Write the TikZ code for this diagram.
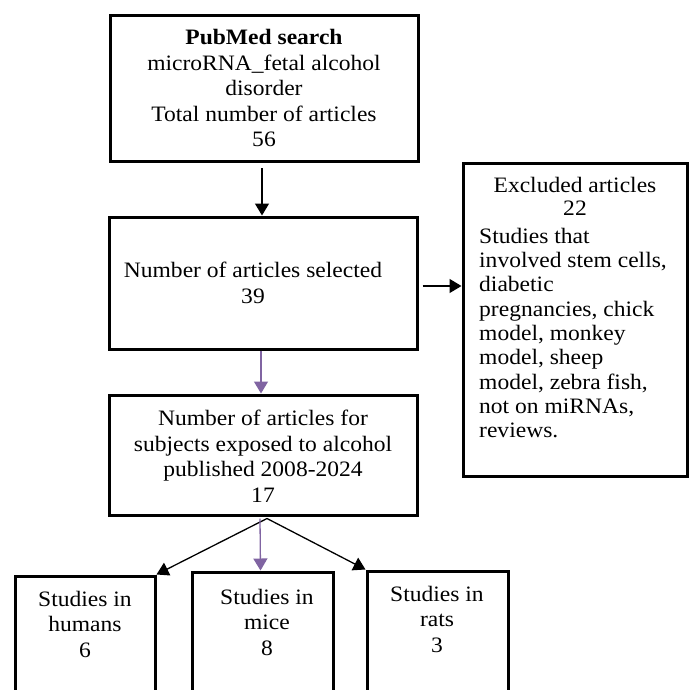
\documentclass[tikz,border=0pt]{standalone}
\usepackage{fontspec}
\setmainfont{Liberation Serif}[FakeStretch=1.07]
\usetikzlibrary{arrows.meta}
\definecolor{arrowpurple}{RGB}{128,100,162}
\begin{document}
\begin{tikzpicture}[x=1pt,y=-1pt,
  box/.style={draw=black, line width=3pt, rectangle, inner sep=0pt},
  txt/.style={inner sep=0pt, align=center, font=\fontsize{22}{25.5}\selectfont},
  txtl/.style={inner sep=0pt, align=left, font=\fontsize{22}{24.3}\selectfont},
  arr/.style={line width=1.3pt, -{Triangle[width=14pt,length=12pt]}},
  parr/.style={line width=1.3pt, draw=arrowpurple, -{Triangle[width=14pt,length=12pt,fill=arrowpurple]}}
]
\clip (0,0) rectangle (691,689);
\fill[white] (0,0) rectangle (691,689);

% boxes
\node[box, minimum width=308pt, minimum height=146pt] (b1) at (264,88) {};
\node[box, minimum width=308pt, minimum height=132pt] (b2) at (263,283) {};
\node[box, minimum width=308pt, minimum height=120pt] (b3) at (263,455) {};
\node[box, minimum width=224pt, minimum height=313pt] (ex) at (575,319.5) {};
\node[box, minimum width=140pt, minimum height=150pt] (hum) at (85,651) {};
\node[box, minimum width=141pt, minimum height=150pt] (mice) at (262.5,647) {};
\node[box, minimum width=141pt, minimum height=150pt] (rats) at (437.5,646) {};

% texts
\node[txt] (t1) at (b1.center) {\textbf{PubMed search}\\microRNA\_fetal alcohol\\disorder\\Total number of articles\\56};
\node[txt] (t2) at (253,283) {Number of articles selected\\39};
\node[txt] (t3) at (263,456) {Number of articles for\\subjects exposed to alcohol\\published 2008-2024\\17};
\node[txt, font=\fontsize{22}{23}\selectfont] (tex1) at (575,196) {Excluded articles\\22};
\node[txtl, anchor=west] (tex2) at (479,333) {Studies that\\involved stem cells,\\diabetic\\pregnancies, chick\\model, monkey\\model, sheep\\model, zebra fish,\\not on miRNAs,\\reviews.};
\node[txt] (th) at (85,624) {Studies in\\humans\\6};
\node[txt] (tm) at (267,622) {Studies in\\mice\\8};
\node[txt] (tr) at (437,619) {Studies in\\rats\\3};

% connectors
\draw[arr] ([xshift=-2pt,yshift=-5.5pt]b1.south) -- ([xshift=-1pt]b2.north);
\draw[parr] ([xshift=-2pt]b2.south) -- ([xshift=-2pt]b3.north);
\draw[arr] ([xshift=4pt,yshift=-3pt]b2.east) -- ([yshift=-3pt]b2.east -| ex.west);
\coordinate (apex) at ([xshift=4pt,yshift=-2pt]b3.south);
\draw[arr] (apex) -- (hum.north east);
\draw[arr] (apex) -- (rats.north west);
\draw[parr] ([xshift=-3pt,yshift=-2pt]b3.south) -- ([xshift=-2pt]mice.north);
\end{tikzpicture}
\end{document}
